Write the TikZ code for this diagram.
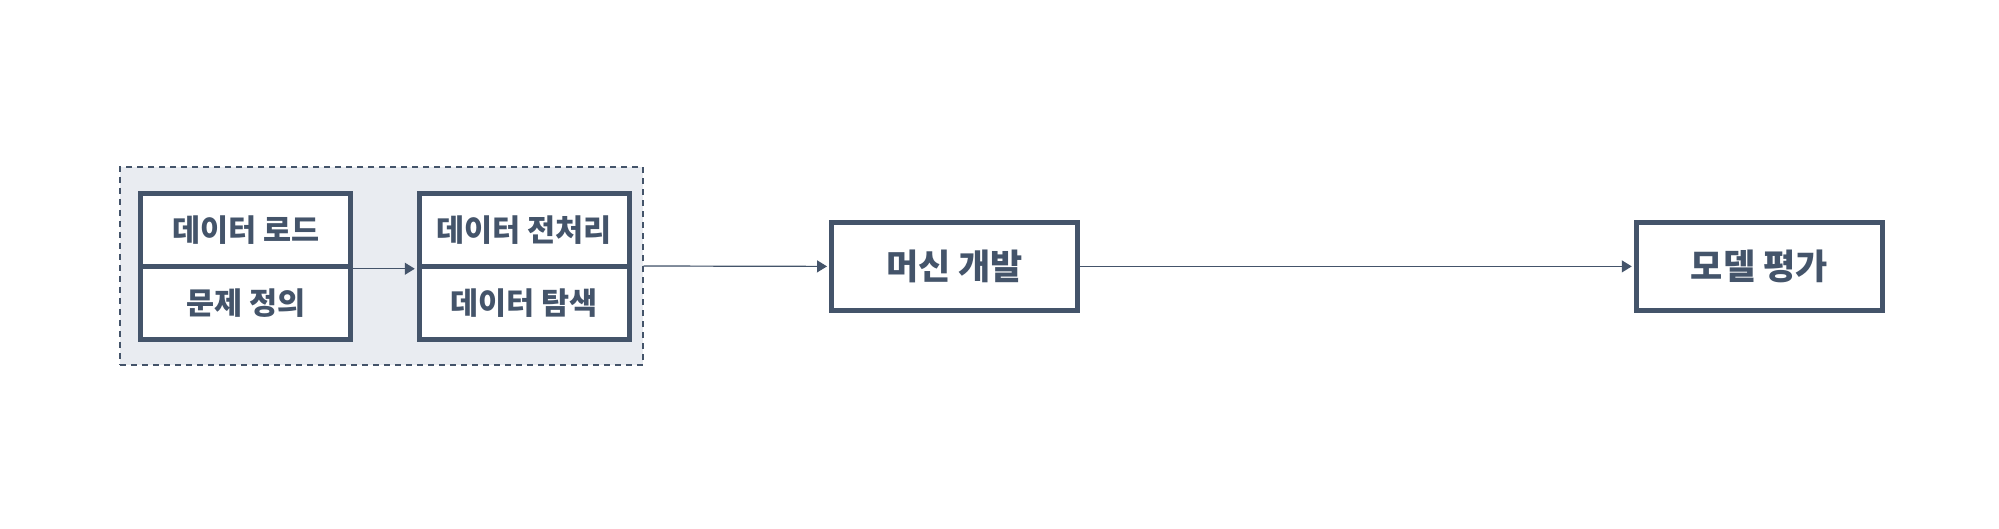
\documentclass[tikz,border=0pt]{standalone}
\usepackage{fontspec}
\setmainfont{Noto Sans CJK KR}
\usepackage{tikz}
\usetikzlibrary{arrows.meta}
\definecolor{slate}{HTML}{44546A}
\definecolor{groupfill}{HTML}{E9ECF1}

\begin{document}
\begin{tikzpicture}[x=1pt, y=-1pt,
    cell/.style={draw=slate, line width=5pt, fill=white, rectangle, minimum width=210pt, minimum height=73pt, inner sep=0pt, align=center, text=slate, font=\fontsize{30.5}{34}\selectfont\bfseries},
    stage/.style={draw=slate, line width=5pt, fill=white, rectangle, minimum width=246pt, minimum height=88pt, inner sep=0pt, align=center, text=slate, font=\fontsize{35}{40}\selectfont\bfseries},
    group/.style={draw=slate, line width=1.3pt, dash pattern=on 6pt off 5pt, fill=groupfill, rectangle, minimum width=523pt, minimum height=198pt, inner sep=0pt},
    flow/.style={-{Triangle[length=10pt, width=12pt]}, line width=1.2pt, draw=slate, fill=slate}]

    \useasboundingbox (0,0) rectangle (1999,529);

    % Dashed group behind the first two blocks
    \node[group] (prepgroup) at (381.5,266) {};

    % Define the stacked cells
    \node[cell] (load) at (245.75,229.75) {데이터 로드};
    \node[cell] (define) at (245.75,303) {문제 정의};
    \node[cell] (prep) at (524.25,229.75) {데이터 전처리};
    \node[cell] (explore) at (524.25,303) {데이터 탐색};

    % Define the later stages
    \node[stage] (dev) at (954.5,266.4) {머신 개발};
    \node[stage] (eval) at (1759.25,266.4) {모델 평가};

    % Connect the stages with flows
    \draw[flow, shorten >=2pt] (load.south east) -- (prep.south west);
    \draw[flow, shorten >=2pt] (prepgroup.east) -- (dev.west);
    \draw[flow, shorten >=2pt] (dev.east) -- (eval.west);
\end{tikzpicture}
\end{document}
